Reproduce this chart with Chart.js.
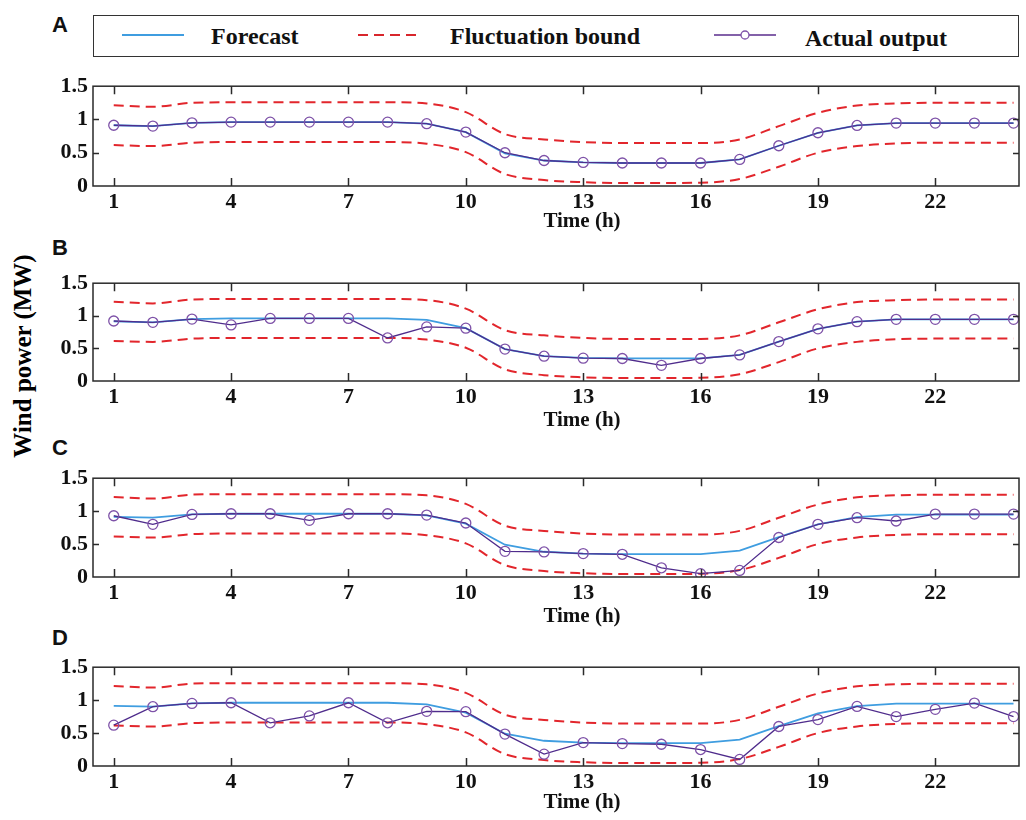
<!DOCTYPE html>
<html>
<head>
<meta charset="utf-8">
<script src="https://cdn.jsdelivr.net/npm/chart.js@4.4.1/dist/chart.umd.min.js"></script>
<style>
  body { margin: 0; background: #fff; }
  #wrap { position: relative; width: 1026px; height: 820px; overflow: hidden; font-family: "Liberation Serif", serif; }
  canvas { position: absolute; left: 0; }
  .txt { position: absolute; font-weight: bold; white-space: nowrap; color: #111; }
  .letter { font-family: "Liberation Sans", Arial, sans-serif; font-size: 22px; transform: translate(-50%, -50%); }
  .xtitle { font-size: 21px; transform: translate(-50%, -50%); }
  .leg { font-size: 24px; transform: translateY(-50%); }
  #legendBox { position: absolute; left: 93px; top: 15px; width: 926px; height: 42px; border: 1.5px solid #333; box-sizing: border-box; }
  #ytitle { position: absolute; left: 23px; top: 356px; font-size: 25px; font-weight: bold; transform: translate(-50%, -50%) rotate(-90deg); white-space: nowrap; }
  svg { position: absolute; }
</style>
</head>
<body>
<div id="wrap">
  <div id="legendBox"></div>
  <svg style="left:120px; top:30px" width="66" height="10"><line x1="2" y1="5" x2="64" y2="5" stroke="#3f9de0" stroke-width="2"/></svg>
  <div class="txt leg" style="left:211px; top:36px">Forecast</div>
  <svg style="left:356px; top:30px" width="66" height="10"><line x1="2" y1="5" x2="64" y2="5" stroke="#d8262c" stroke-width="2" stroke-dasharray="10,6"/></svg>
  <div class="txt leg" style="left:450px; top:36px">Fluctuation bound</div>
  <svg style="left:712px; top:28px" width="66" height="14"><line x1="2" y1="7" x2="64" y2="7" stroke="#5a2d8c" stroke-width="1.3"/><circle cx="33" cy="7" r="4" fill="#fff" stroke="#7e52a8" stroke-width="1.3"/></svg>
  <div class="txt leg" style="left:805px; top:38px">Actual output</div>

  <div class="txt letter" style="left:60px; top:25px">A</div>
  <div class="txt letter" style="left:60px; top:248px">B</div>
  <div class="txt letter" style="left:60px; top:448px">C</div>
  <div class="txt letter" style="left:60px; top:638px">D</div>
  <div id="ytitle">Wind power (MW)</div>

  <canvas id="panelA" width="1026" height="146" style="top:68px"></canvas>
  <canvas id="panelB" width="1026" height="144" style="top:265px"></canvas>
  <canvas id="panelC" width="1026" height="145" style="top:460px"></canvas>
  <canvas id="panelD" width="1026" height="145" style="top:649px"></canvas>

  <div class="txt xtitle" style="left:582px; top:220px">Time (h)</div>
  <div class="txt xtitle" style="left:582px; top:419px">Time (h)</div>
  <div class="txt xtitle" style="left:582px; top:615px">Time (h)</div>
  <div class="txt xtitle" style="left:582px; top:801px">Time (h)</div>
</div>
<script>
const hours = [1, 2, 3, 4, 5, 6, 7, 8, 9, 10, 11, 12, 13, 14, 15, 16, 17, 18, 19, 20, 21, 22, 23, 24];
const xTickValues = [1, 4, 7, 10, 13, 16, 19, 22];
const yTickValues = [0, 0.5, 1, 1.5];

const forecast = [0.913, 0.90, 0.95, 0.96, 0.96, 0.96, 0.96, 0.96, 0.936, 0.81, 0.49, 0.383, 0.355, 0.346, 0.346, 0.346, 0.40, 0.605, 0.80, 0.91, 0.946, 0.946, 0.946, 0.946];
const upperBound = [1.215, 1.19, 1.25, 1.258, 1.258, 1.258, 1.258, 1.258, 1.24, 1.11, 0.78, 0.70, 0.66, 0.645, 0.645, 0.645, 0.70, 0.90, 1.10, 1.21, 1.24, 1.25, 1.25, 1.25];
const lowerBound = [0.615, 0.60, 0.65, 0.66, 0.66, 0.66, 0.66, 0.66, 0.635, 0.51, 0.18, 0.09, 0.057, 0.045, 0.045, 0.05, 0.105, 0.29, 0.50, 0.60, 0.64, 0.65, 0.65, 0.65];

const actualA = [0.913, 0.90, 0.95, 0.96, 0.96, 0.96, 0.96, 0.96, 0.936, 0.81, 0.50, 0.383, 0.355, 0.346, 0.346, 0.346, 0.40, 0.605, 0.80, 0.91, 0.946, 0.946, 0.946, 0.946];
const actualB = [0.92, 0.90, 0.95, 0.86, 0.96, 0.96, 0.96, 0.66, 0.83, 0.81, 0.49, 0.38, 0.35, 0.345, 0.24, 0.345, 0.40, 0.605, 0.80, 0.91, 0.946, 0.946, 0.946, 0.946];
const actualC = [0.93, 0.80, 0.95, 0.96, 0.96, 0.86, 0.96, 0.96, 0.94, 0.82, 0.39, 0.38, 0.355, 0.345, 0.14, 0.05, 0.10, 0.60, 0.80, 0.90, 0.85, 0.955, 0.955, 0.955];
const actualD = [0.62, 0.90, 0.95, 0.96, 0.656, 0.76, 0.96, 0.656, 0.83, 0.825, 0.485, 0.18, 0.355, 0.34, 0.33, 0.25, 0.10, 0.60, 0.705, 0.905, 0.75, 0.86, 0.955, 0.75];

Chart.defaults.font.family = "'Liberation Serif', serif";
Chart.defaults.color = "#111";

function pts(arr) {
  return hours.map((h, i) => ({ x: h, y: arr[i] }));
}

// box round the plot and inward tick marks, like a MATLAB axes
const frame = {
  id: "frame",
  afterDatasetsDraw(chart) {
    const { ctx, chartArea: a, scales } = chart;
    ctx.save();
    ctx.strokeStyle = "#2a2a2a";
    ctx.lineWidth = 1.5;
    ctx.strokeRect(a.left, a.top, a.right - a.left, a.bottom - a.top);
    ctx.beginPath();
    xTickValues.forEach((v) => {
      const px = Math.round(scales.x.getPixelForValue(v)) + 0.5;
      ctx.moveTo(px, a.bottom);
      ctx.lineTo(px, a.bottom - 8);
      ctx.moveTo(px, a.top);
      ctx.lineTo(px, a.top + 8);
    });
    [0.5, 1].forEach((v) => {
      const py = Math.round(scales.y.getPixelForValue(v)) + 0.5;
      ctx.moveTo(a.left, py);
      ctx.lineTo(a.left + 6, py);
      ctx.moveTo(a.right, py);
      ctx.lineTo(a.right - 6, py);
    });
    ctx.stroke();
    ctx.restore();
  },
};

function makePanel(id, actual) {
  new Chart(document.getElementById(id), {
    type: "line",
    data: {
      datasets: [
        {
          label: "Actual output",
          data: pts(actual),
          borderColor: "#4f2c8c",
          borderWidth: 1.3,
          pointRadius: 5,
          pointBackgroundColor: "rgba(255,255,255,0)",
          pointBorderColor: "#7e52a8",
          pointBorderWidth: 1.3,
        },
        {
          label: "Forecast",
          data: pts(forecast),
          borderColor: "#3f9de0",
          borderWidth: 1.8,
          pointRadius: 0,
        },
        {
          label: "Fluctuation bound",
          data: pts(upperBound),
          borderColor: "#e2262c",
          borderDash: [10, 6],
          borderWidth: 2,
          pointRadius: 0,
          cubicInterpolationMode: "monotone",
        },
        {
          label: "Fluctuation bound (lower)",
          data: pts(lowerBound),
          borderColor: "#e2262c",
          borderDash: [10, 6],
          borderWidth: 2,
          pointRadius: 0,
          cubicInterpolationMode: "monotone",
        },
      ],
    },
    options: {
      responsive: false,
      animation: false,
      events: [],
      layout: { autoPadding: false, padding: { top: 12, left: 0, right: 7, bottom: 0 } },
      plugins: { legend: { display: false }, tooltip: { enabled: false } },
      scales: {
        x: {
          type: "linear",
          min: 0.47,
          max: 24.14,
          afterBuildTicks: (axis) => {
            axis.ticks = xTickValues.map((v) => ({ value: v }));
          },
          afterFit: (axis) => {
            axis.height = 28;
          },
          grid: { display: false, drawTicks: false },
          border: { display: false },
          ticks: { font: { size: 22, weight: "bold" }, padding: 3, maxRotation: 0, autoSkip: false },
        },
        y: {
          min: 0,
          max: 1.5,
          afterBuildTicks: (axis) => {
            axis.ticks = yTickValues.map((v) => ({ value: v }));
          },
          afterFit: (axis) => {
            axis.width = 93;
          },
          grid: { display: false, drawTicks: false },
          border: { display: false },
          ticks: { font: { size: 22, weight: "bold" }, padding: 5, callback: (v) => String(v) },
        },
      },
    },
    plugins: [frame],
  });
}

makePanel("panelA", actualA);
makePanel("panelB", actualB);
makePanel("panelC", actualC);
makePanel("panelD", actualD);
</script>
</body>
</html>
